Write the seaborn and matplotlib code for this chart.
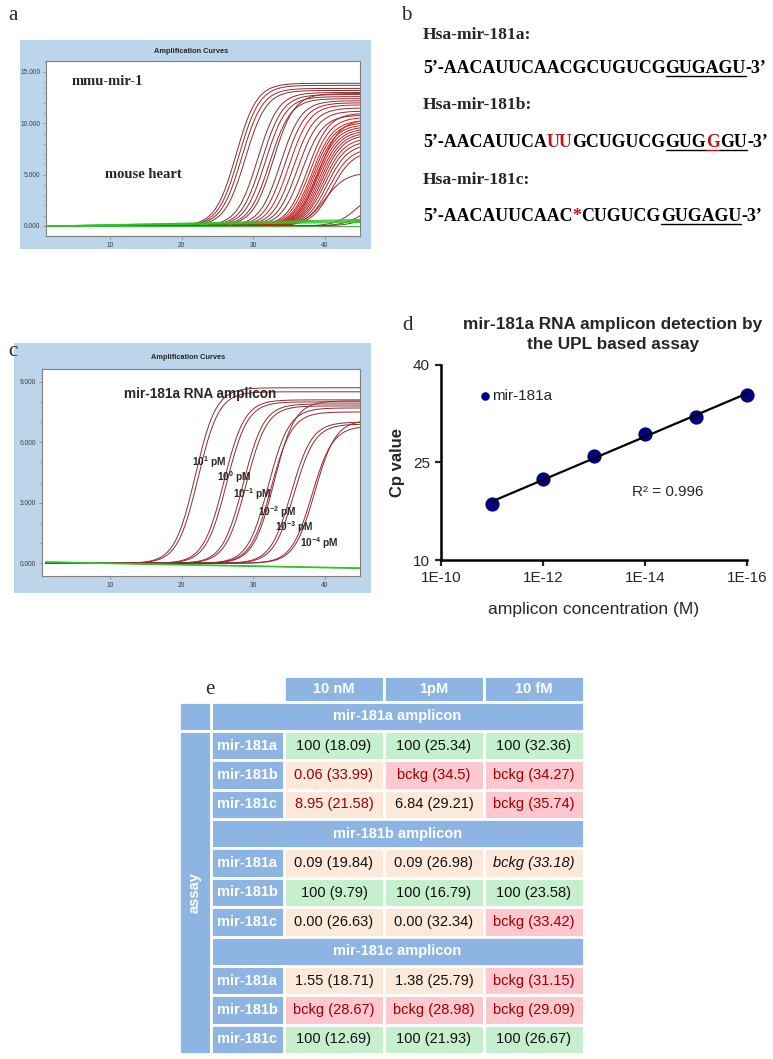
import numpy as np
import pandas as pd
import seaborn as sns
import matplotlib.pyplot as plt
from matplotlib.patches import Rectangle
from matplotlib.colors import ListedColormap
from matplotlib.lines import Line2D
from matplotlib.ticker import FuncFormatter, MultipleLocator

W, H = 773, 1059

# panel a: mmu-mir-1 in mouse heart, one curve per well (Cp, plateau, colour)
a_cp = [27.6, 28.0, 28.4, 28.9, 30.6, 31.2, 31.7, 32.3, 32.8,
        33.8, 34.4, 35.0, 35.6, 36.2, 36.8,
        37.6, 37.9, 38.2, 38.4, 38.6, 38.8, 39.0, 39.2, 39.4, 39.6,
        39.8, 40.0, 40.3, 40.6, 41.0, 39.1, 40.0, 44.5, 45.5, 46.0]
a_plateau = [13900, 13700, 13400, 13200, 13000, 12800, 12600, 12400, 12900,
             12200, 12000, 11800, 11500, 11200, 10800,
             11000, 10600, 10300, 10100, 9900, 9700, 9500, 9300, 9100, 8900,
             8600, 8300, 8000, 7600, 7300, 10400, 5200, 3500, 2500, 1600]
a_color = ["d", "d", "d", "d", "d", "d", "d", "d", "d",
           "d", "d", "r", "d", "d", "d",
           "d", "r", "r", "d", "r", "d", "r", "d", "r", "d",
           "r", "d", "d", "r", "d", "r", "d", "d", "d", "d"]
a_green_start = [0, 0, 0, 0, -20]
a_green_end = [650, 550, 450, 350, -20]

# panel c: mir-181a RNA amplicon dilution series
c_cp = [21.9, 22.3, 25.9, 26.3, 28.6, 29.0, 32.1, 32.5, 32.9, 35.3, 35.7, 38.2, 38.6]
c_plateau = [8700, 8500, 8100, 8000, 7900, 7800, 7700, 7500, 8050, 7000, 6900, 6800, 7100]
c_green_start = [80, 60, 40]
c_green_end = [-250, -230, -270]
c_labels = ["10$^{1}$ pM", "10$^{0}$ pM", "10$^{-1}$ pM", "10$^{-2}$ pM", "10$^{-3}$ pM", "10$^{-4}$ pM"]
c_label_x = [21.4, 24.9, 27.2, 30.7, 33.0, 36.5]
c_label_y = [5030, 4290, 3430, 2560, 1780, 990]

# panel d: standard curve
d_conc = [1e-11, 1e-12, 1e-13, 1e-14, 1e-15, 1e-16]
d_cp = [18.6, 22.4, 26.05, 29.4, 32.05, 35.4]
d_ticks = ["1E-10", "1E-12", "1E-14", "1E-16"]

# panel e: cross-reactivity table
e_cols = ["10 nM", "1pM", "10 fM"]
e_amplicons = ["mir-181a amplicon", "mir-181b amplicon", "mir-181c amplicon"]
e_assays = ["mir-181a", "mir-181b", "mir-181c"]
e_values = [
    ["100 (18.09)", "100 (25.34)", "100 (32.36)"],
    ["0.06 (33.99)", "bckg (34.5)", "bckg (34.27)"],
    ["8.95 (21.58)", "6.84 (29.21)", "bckg (35.74)"],
    ["0.09 (19.84)", "0.09 (26.98)", "bckg (33.18)"],
    ["100 (9.79)", "100 (16.79)", "100 (23.58)"],
    ["0.00 (26.63)", "0.00 (32.34)", "bckg (33.42)"],
    ["1.55 (18.71)", "1.38 (25.79)", "bckg (31.15)"],
    ["bckg (28.67)", "bckg (28.98)", "bckg (29.09)"],
    ["100 (12.69)", "100 (21.93)", "100 (26.67)"],
]
e_fill = [[0, 0, 0], [1, 2, 2], [1, 1, 2],
          [1, 1, 1], [0, 0, 0], [1, 1, 2],
          [1, 1, 2], [2, 2, 2], [0, 0, 0]]
e_red = [[0, 0, 0], [1, 1, 1], [1, 0, 1],
         [0, 0, 0], [0, 0, 0], [0, 0, 1],
         [0, 0, 1], [1, 1, 1], [0, 0, 0]]

sns.set_style("white")
plt.rcParams["font.family"] = ["Liberation Sans", "DejaVu Sans"]
plt.rcParams["mathtext.fontset"] = "custom"
plt.rcParams["mathtext.rm"] = "Liberation Sans:bold"
plt.rcParams["mathtext.bf"] = "Liberation Sans:bold"
plt.rcParams["mathtext.default"] = "bf"

SERIF = ["Liberation Serif", "DejaVu Serif"]
BOX = "#bcd5ea"
DARK = "#8e2a2e"
RED = "#e01818"
GREEN = "#2fc42f"


def px_axes(fig, x0, y0, x1, y1):
    return fig.add_axes([x0 / W, 1 - y1 / H, (x1 - x0) / W, (y1 - y0) / H])


def ftext(fig, x, y, s, **kw):
    return fig.text(x / W, 1 - y / H, s, **kw)


def logistic(cyc, cp, top, scale):
    return top / (1 + np.exp(-(cyc - cp) / scale))


def amp_panel(fig, box, inner, title_x, cps, tops, colors, g0, g1, xlim, ylim, yt, scale):
    bx0, by0, bx1, by1 = box
    fig.add_artist(Rectangle((bx0 / W, 1 - by1 / H), (bx1 - bx0) / W, (by1 - by0) / H,
                             transform=fig.transFigure, facecolor=BOX, edgecolor="none", zorder=0))
    ax = px_axes(fig, *inner)
    cyc = np.linspace(1, 46, 220)
    rows = []
    for i, (cp, top, col) in enumerate(zip(cps, tops, colors)):
        for c, v in zip(cyc, logistic(cyc, cp, top, scale)):
            rows.append({"curve": i, "cycle": c, "signal": v, "kind": col})
    for j, (s, e) in enumerate(zip(g0, g1)):
        rows.append({"curve": 1000 + j, "cycle": 1, "signal": s, "kind": "g"})
        rows.append({"curve": 1000 + j, "cycle": 46, "signal": e, "kind": "g"})
    df = pd.DataFrame(rows)
    sns.lineplot(data=df, x="cycle", y="signal", units="curve", estimator=None,
                 hue="kind", hue_order=["d", "r", "g"],
                 palette={"d": DARK, "r": RED, "g": GREEN},
                 linewidth=0.7, legend=False, ax=ax, sort=False)
    ax.set_xlim(*xlim)
    ax.set_ylim(*ylim)
    ax.set_xticks([10, 20, 30, 40])
    ax.set_yticks(yt)
    ax.yaxis.set_minor_locator(MultipleLocator(1000))
    ax.yaxis.set_major_formatter(FuncFormatter(lambda v, p: f"{v / 1000:.3f}"))
    ax.set_xlabel("")
    ax.set_ylabel("")
    ax.set_facecolor("white")
    for sp in ax.spines.values():
        sp.set_color("#7f7f7f")
        sp.set_linewidth(0.8)
    ax.tick_params(axis="both", which="both", left=True, bottom=True, length=2.5, width=0.5,
                   color="#7f7f7f", labelsize=4.8, labelcolor="#404040", pad=1.5)
    ax.tick_params(axis="y", which="minor", length=1.5)
    ftext(fig, title_x, by0 + (inner[1] - by0) * 0.55, "Amplification Curves", fontsize=5.3,
          fontweight="bold", ha="center", va="center")
    return ax


fig = plt.figure(figsize=(W / 100, H / 100), dpi=100)

# ---------------- a
ax_a = amp_panel(fig, (20, 40, 371, 249), (46, 61, 360, 236), 191,
                 a_cp, a_plateau, a_color, a_green_start, a_green_end,
                 (1.07, 44.9), (-975, 16070), [0, 5000, 10000, 15000], 1.45)
ax_a.text(4.65, 14030, "mmu-mir-1", family=SERIF, fontweight="bold", fontsize=10.5, va="center")
ax_a.text(9.3, 5030, "mouse heart", family=SERIF, fontweight="bold", fontsize=10.5, va="center")
ftext(fig, 8, 16, "a", family=SERIF, fontsize=15, va="center")

# ---------------- c
ax_c = amp_panel(fig, (14, 343, 371, 593), (42, 369, 360, 576), 188,
                 c_cp, c_plateau, ["d"] * len(c_cp), c_green_start, c_green_end,
                 (0.5, 44.9), (-630, 9630), [0, 3000, 6000, 9000], 1.45)
ax_c.text(12.0, 8400, "mir-181a RNA amplicon", fontweight="bold", fontsize=9.8, va="center")
for lab, lx, ly in zip(c_labels, c_label_x, c_label_y):
    ax_c.text(lx, ly, lab, fontweight="bold", fontsize=7.3, va="center")
ftext(fig, 8, 351, "c", family=SERIF, fontsize=15, va="center")

# ---------------- b
ftext(fig, 401, 15, "b", family=SERIF, fontsize=15, va="center")
renderer = fig.canvas.get_renderer()
SEQ_RED = "#c0141c"
BSIZE = 12.9


def seq_line(x0, ybase, pieces):
    x = x0
    for txt, col, und in pieces:
        t = ftext(fig, x, ybase, txt, family=SERIF, fontweight="bold", fontsize=BSIZE,
                  color=col, ha="left", va="baseline")
        bb = t.get_window_extent(renderer)
        if und:
            yy = 1 - (ybase + 2.5) / H
            fig.add_artist(Line2D([bb.x0 / W, bb.x1 / W], [yy, yy], color=col,
                                  linewidth=1.0, transform=fig.transFigure))
        x += bb.width


names_b = ["Hsa-mir-181a:", "Hsa-mir-181b:", "Hsa-mir-181c:"]
seqs_b = [
    [("5’-AACAUUCAACGCUGUCG", "k", False), ("GUGAGU", "k", True), ("-3’", "k", False)],
    [("5’-AACAUUCA", "k", False), ("UU", SEQ_RED, False), ("GCUGUCG", "k", False),
     ("GUG", "k", True), ("G", SEQ_RED, True), ("GU", "k", True), ("-3’", "k", False)],
    [("5’-AACAUUCAAC", "k", False), ("*", SEQ_RED, False), ("CUGUCG", "k", False),
     ("GUGAGU", "k", True), ("-3’", "k", False)],
]
name_y = [39, 109, 184]
seq_y = [73, 147, 221]
for nm, ny, sq, sy in zip(names_b, name_y, seqs_b, seq_y):
    ftext(fig, 423, ny, nm, family=SERIF, fontweight="bold", fontsize=12.6, va="baseline")
    seq_line(423, sy, sq)

# ---------------- d
ftext(fig, 402, 325, "d", family=SERIF, fontsize=15, va="center")
ax_d = px_axes(fig, 441, 365, 747, 560)
d_exp = -np.log10(d_conc)
sns.regplot(x=d_exp, y=d_cp, ci=None, ax=ax_d, label="mir-181a",
            scatter_kws={"s": 105, "color": "#000080", "alpha": 1, "clip_on": False,
                         "zorder": 3, "linewidths": 0},
            line_kws={"color": "black", "linewidth": 1.6, "zorder": 4})
ax_d.set_xlim(10, 16)
ax_d.set_ylim(10, 40)
ax_d.set_yticks([10, 25, 40])
ax_d.set_xticks([10, 12, 14, 16])
ax_d.set_xticklabels(d_ticks)
sns.despine(ax=ax_d)
for sp in ["left", "bottom"]:
    ax_d.spines[sp].set_linewidth(1.8)
    ax_d.spines[sp].set_color("black")
ax_d.tick_params(axis="both", left=True, bottom=True, direction="out", length=4, width=1.6,
                 labelsize=11, pad=4)
ax_d.set_ylabel("Cp value", fontsize=12, fontweight="bold", labelpad=6)
ax_d.set_xlabel("amplicon concentration (M)", fontsize=12.6, labelpad=12)
ax_d.text(13.74, 20.4, "R² = 0.996", fontsize=11, va="center")
ax_d.legend(loc="center left", bbox_to_anchor=(0.13, 0.84), frameon=False, markerscale=0.6,
            handlelength=0.6, handletextpad=0.15, fontsize=11, borderpad=0, borderaxespad=0)
ftext(fig, 613, 325, "mir-181a RNA amplicon detection by", fontsize=12.4, fontweight="bold",
      ha="center", va="center")
ftext(fig, 613, 345, "the UPL based assay", fontsize=12.4, fontweight="bold",
      ha="center", va="center")

# ---------------- e
ftext(fig, 205, 690, "e", family=SERIF, fontsize=15, va="center")
BLUE = "#8db4e2"
FILLS = ["#c6efce", "#fde9d9", "#ffc7ce"]
TXT_RED = "#9c0006"
grid = np.full((11, 3), np.nan)
data_rows = [0, 1, 2, 4, 5, 6, 8, 9, 10]
for k, r in enumerate(data_rows):
    grid[r] = e_fill[k]
ax_e = px_axes(fig, 284, 731, 584, 1054)
sns.heatmap(grid, cmap=ListedColormap(FILLS), vmin=-0.5, vmax=2.5, cbar=False,
            linewidths=2, linecolor="white", ax=ax_e, xticklabels=False, yticklabels=False)
ax_e.set_xlim(0, 3)
ax_e.set_ylim(11, 0)


def cell(x, y, w, h):
    ax_e.add_patch(Rectangle((x, y), w, h, facecolor=BLUE, edgecolor="white",
                             linewidth=2, clip_on=False, zorder=2))


for j, c in enumerate(e_cols):
    cell(j, -1.87, 1, 0.87)
    ax_e.text(j + 0.5, -1.43, c, color="white", fontweight="bold", fontsize=10.5,
              ha="center", va="center")
for a, r in zip(e_amplicons, [-1, 3, 7]):
    cell(-0.73, r, 3.73, 1)
    ax_e.text(1.135, r + 0.5, a, color="white", fontweight="bold", fontsize=10.5,
              ha="center", va="center", zorder=3)
cell(-1.05, -1, 0.32, 1)
cell(-1.05, 0, 0.32, 11)
ax_e.text(-0.89, 5.5, "assay", color="white", fontweight="bold", fontsize=10.5,
          rotation=90, ha="center", va="center", zorder=3)
for k, r in enumerate(data_rows):
    cell(-0.73, r, 0.73, 1)
    ax_e.text(-0.365, r + 0.5, e_assays[k % 3], color="white", fontweight="bold",
              fontsize=10.5, ha="center", va="center", zorder=3)
    for j in range(3):
        txt = e_values[k][j]
        ax_e.text(j + 0.5, r + 0.5, txt, color=TXT_RED if e_red[k][j] else "#111111",
                  fontsize=10.5, ha="center", va="center",
                  style="italic" if (k == 3 and j == 2) else "normal")

fig.savefig("out.png", dpi=100)
